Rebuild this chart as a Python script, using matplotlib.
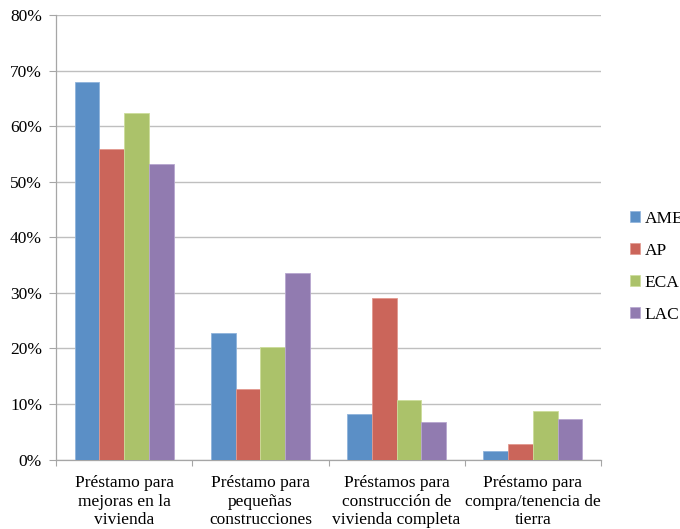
import matplotlib
matplotlib.use("Agg")
import matplotlib.pyplot as plt
from matplotlib.patches import Patch
from matplotlib.ticker import FuncFormatter, MultipleLocator
import numpy as np

plt.rcParams['font.family'] = ['Liberation Serif', 'DejaVu Serif']

categories = [
    "Préstamo para\nmejoras en la\nvivienda",
    "Préstamo para\npequeñas\nconstrucciones",
    "Préstamos para\nconstrucción de\nvivienda completa",
    "Préstamo para\ncompra/tenencia de\ntierra",
]
series_names = ["AME", "AP", "ECA", "LAC"]
ame = [68.0, 22.7, 8.1, 1.5]
ap = [55.9, 12.7, 29.1, 2.7]
eca = [62.3, 20.3, 10.7, 8.8]
lac = [53.2, 33.5, 6.7, 7.2]
values = [ame, ap, eca, lac]
colors = ["#5B8FC6", "#CB655A", "#ABC26A", "#917BB0"]
edge_colors = ["#8FB3DB", "#E2998F", "#CCDD9A", "#B7A6CF"]

fig = plt.figure(figsize=(6.8, 5.29), dpi=100)
ax = fig.add_axes([56 / 680, 1 - 459.5 / 529, 545 / 680, 444.5 / 529])

x = np.arange(len(categories))
bar_w = 1 / 5.5
for i, (vals, c, ec) in enumerate(zip(values, colors, edge_colors)):
    ax.bar(x + (i - 1.5) * bar_w, vals, width=bar_w, color=c,
           edgecolor=ec, linewidth=0.6, zorder=3)

ax.set_xlim(-0.5, len(categories) - 0.5)
ax.set_ylim(0, 80)
ax.yaxis.set_major_locator(MultipleLocator(10))
ax.yaxis.set_major_formatter(FuncFormatter(lambda v, p: f"{v:.0f}%"))
ax.grid(axis='y', color='#BFBFBF', linewidth=1.0, zorder=0)

ax.set_xticks(x)
ax.set_xticklabels(categories, fontsize=12.5, linespacing=1.23)
ax.set_xticks(np.arange(-0.5, len(categories)), minor=True)
ax.tick_params(axis='x', which='major', length=0, pad=11)
ax.tick_params(axis='x', which='minor', length=4, color='#A6A6A6', width=0.8)
ax.tick_params(axis='y', length=5, color='#A6A6A6', width=0.8, pad=5,
               labelsize=12.5)

for side in ('top', 'right'):
    ax.spines[side].set_visible(False)
for side in ('left', 'bottom'):
    ax.spines[side].set_color('#A6A6A6')
    ax.spines[side].set_linewidth(0.9)

handles = [Patch(facecolor=c, edgecolor=ec, linewidth=0.5)
           for c, ec in zip(colors, edge_colors)]
fig.legend(handles, series_names, loc='upper left',
           bbox_to_anchor=(630 / 680, 1 - 211 / 529), frameon=False,
           fontsize=12.5, handlelength=0.6, handleheight=0.6,
           handletextpad=0.25, labelspacing=0.92, borderpad=0,
           borderaxespad=0)

fig.savefig("out.png", dpi=100)
